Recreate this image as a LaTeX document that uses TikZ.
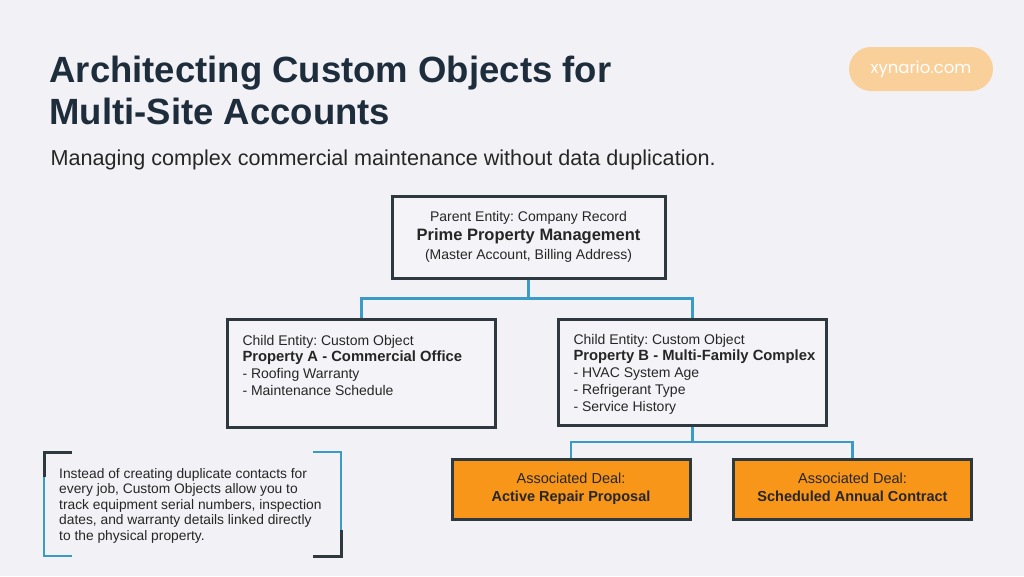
\documentclass[tikz,border=0pt]{standalone}
\usepackage{fontspec}
\setmainfont{Liberation Sans}
\newfontfamily\logofont{Poppins}
\usetikzlibrary{calc}
\definecolor{bg}{HTML}{F2F1F6}
\definecolor{boxfill}{HTML}{F4F3F8}
\definecolor{ink}{HTML}{1E2D3B}
\definecolor{frame}{HTML}{2E383F}
\definecolor{link}{HTML}{3A9CC6}
\definecolor{deal}{HTML}{F8961A}
\definecolor{pill}{HTML}{FAD09A}
\newcommand\childtext[1]{\begin{minipage}[t][76pt][t]{238pt}\raggedright
  \fontsize{14}{16.8}\selectfont#1\end{minipage}}
\frenchspacing

\begin{document}
\begin{tikzpicture}[x=1pt,y=-1pt,
    entity/.style={draw=frame,line width=3pt,fill=boxfill,text=black!85},
    dealbox/.style={draw=frame,line width=3pt,fill=deal,text=black!85,
      minimum width=238pt,minimum height=60pt,align=center},
    link/.style={draw=link,line width=2.5pt},
    bracket/.style={line width=3pt}]
  \fill[bg] (0,0) rectangle (1024,576);
  % heading
  \node[anchor=base west,text=ink,align=left,font=\fontsize{36.5}{42}\selectfont\bfseries]
    (title) at (46,124) {Architecting Custom Objects for\\Multi-Site Accounts};
  \node[anchor=base west,text=black!85,font=\fontsize{21.6}{24}\selectfont]
    (subtitle) at (47,165) {Managing complex commercial maintenance without data duplication.};
  \node[fill=pill,rounded corners=22pt,minimum width=144pt,minimum height=44pt,
    text=white,font=\logofont\fontsize{16.5}{20}\selectfont] (logo) at (921,69) {xynario.com};
  % boxes
  \node[entity,minimum width=273pt,minimum height=82pt,align=center,
    font=\fontsize{14}{19}\selectfont] (parent) at (528.5,237)
    {Parent Entity: Company Record\\
     {\fontsize{16.5}{19}\selectfont\bfseries Prime Property Management}\\
     (Master Account, Billing Address)};
  \node[entity,inner xsep=15pt,inner ysep=16pt] (propA) at (361.5,373) {\childtext{%
    Child Entity: Custom Object\\
    \mbox{\fontsize{14.8}{16.8}\selectfont\bfseries Property A - Commercial Office}\\
    - Roofing Warranty\\
    - Maintenance Schedule}};
  \node[entity,inner xsep=15pt,inner ysep=15pt] (propB) at (692.5,372) {\childtext{%
    Child Entity: Custom Object\\
    \mbox{\fontsize{14.8}{16.8}\selectfont\bfseries Property B - Multi-Family Complex}\\
    - HVAC System Age\\
    - Refrigerant Type\\
    - Service History}};
  \node[dealbox,font=\fontsize{14.5}{18}\selectfont] (dealA) at (571,489)
    {\strut Associated Deal:\\{\fontsize{14.5}{18}\selectfont\bfseries Active Repair Proposal\strut}};
  \node[dealbox,font=\fontsize{14.5}{18}\selectfont] (dealB) at (852.5,489)
    {\strut Associated Deal:\\{\fontsize{14.5}{18}\selectfont\bfseries Scheduled Annual Contract\strut}};
  % connectors
  \foreach \i/\j in {parent/propA, parent/propB, propB/dealA, propB/dealB} {
    \draw[link] (\i.south) |- ($(\i.south)!0.5!(\j.north)$) -| (\j.north);
  };
  % side note
  \node[anchor=base west,align=left,text=black!85,inner sep=0pt,
    font=\fontsize{13.8}{15.4}\selectfont] (note) at (59,540)
    {Instead of creating duplicate contacts for\\
     every job, Custom Objects allow you to\\
     track equipment serial numbers, inspection\\
     dates, and warranty details linked directly\\
     to the physical property.};
  \draw[bracket,frame] (72,452) -- (44,452) -- (44,477);
  \draw[bracket,link] (44,477) -- (44,556) -- (72,556);
  \draw[bracket,link] (313,452) -- (341,452) -- (341,530);
  \draw[bracket,frame] (341,530) -- (341,556) -- (313,556);
\end{tikzpicture}
\end{document}
